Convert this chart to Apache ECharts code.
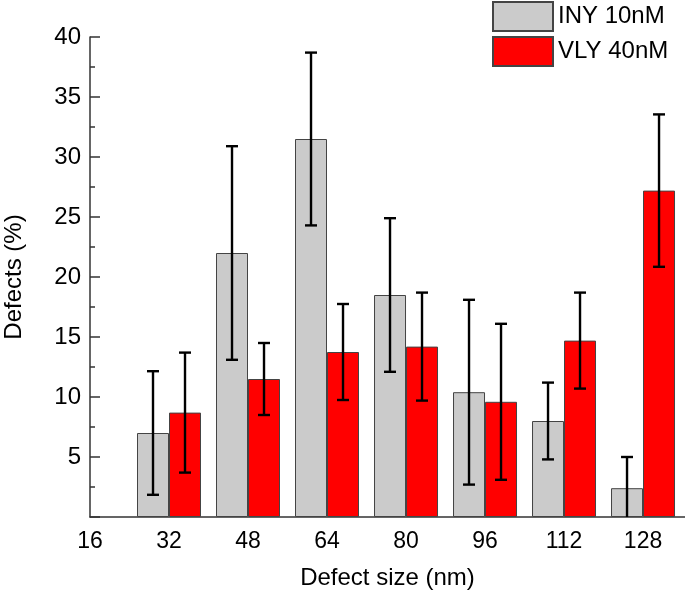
<!DOCTYPE html>
<html>
<head>
<meta charset="utf-8">
<script src="https://cdn.jsdelivr.net/npm/echarts@6/dist/echarts.min.js"></script>
<style>
  html, body { margin: 0; padding: 0; background: #fff; }
  #chart { width: 685px; height: 593px; }
</style>
</head>
<body>
<div id="chart"></div>
<script>
// defect size (nm) of each bar group
const sizes = [32, 48, 64, 80, 96, 112, 128];
// mean defect percentage and error (half bar length) per series
const inyValues = [7.0, 22.0, 31.5, 18.5, 10.4, 8.0, 2.4];
const inyErrors = [5.15, 8.9, 7.2, 6.4, 7.7, 3.2, 2.6];
const vlyValues = [8.7, 11.5, 13.75, 14.2, 9.6, 14.7, 27.2];
const vlyErrors = [5.0, 3.0, 4.0, 4.5, 6.5, 4.0, 6.35];
const seriesNames = ['INY 10nM', 'VLY 40nM'];

const FONT = 'Liberation Sans, Arial, sans-serif';
const BAR_W = 32;

const chart = echarts.init(document.getElementById('chart'), null, { renderer: 'canvas' });

// error bar drawn at bar centre; offset is half a bar to the left/right of the group
const errorBar = (values, errors, offset) => ({
  type: 'custom',
  clip: true,
  z: 10,
  silent: true,
  data: sizes.map((s, i) => [s, values[i] - errors[i], values[i] + errors[i]]),
  renderItem: (params, api) => {
    const lo = api.coord([api.value(0), api.value(1)]);
    const hi = api.coord([api.value(0), api.value(2)]);
    const x = lo[0] + offset;
    const cap = 6;
    const style = { stroke: '#000', lineWidth: 2.4 };
    return {
      type: 'group',
      children: [
        { type: 'line', shape: { x1: x, y1: lo[1], x2: x, y2: hi[1] }, style },
        { type: 'line', shape: { x1: x - cap, y1: hi[1], x2: x + cap, y2: hi[1] }, style },
        { type: 'line', shape: { x1: x - cap, y1: lo[1], x2: x + cap, y2: lo[1] }, style },
      ],
    };
  },
});

const option = {
  animation: false,
  textStyle: { fontFamily: FONT },
  grid: { left: 90, right: 0, top: 37, bottom: 76, containLabel: false, outerBoundsMode: 'none' },
  legend: {
    orient: 'vertical',
    left: 492,
    top: 1,
    padding: 0,
    itemWidth: 60,
    itemHeight: 29,
    itemGap: 4,
    icon: 'rect',
    data: seriesNames,
    textStyle: { fontFamily: FONT, fontSize: 24, color: '#000' },
  },
  xAxis: {
    type: 'value',
    min: 16,
    max: 136.5,
    interval: 16,
    name: 'Defect size (nm)',
    nameLocation: 'middle',
    nameGap: 49,
    nameTextStyle: { fontFamily: FONT, fontSize: 24, color: '#000' },
    axisLine: { show: true, onZero: false, lineStyle: { color: '#333', width: 1.5 } },
    axisTick: { show: false },
    splitLine: { show: false },
    axisLabel: { showMaxLabel: false, fontFamily: FONT, fontSize: 23, color: '#000', margin: 13 },
  },
  yAxis: {
    type: 'value',
    min: 0,
    max: 40,
    interval: 5,
    name: 'Defects (%)',
    nameLocation: 'middle',
    nameGap: 64,
    nameTextStyle: { fontFamily: FONT, fontSize: 24, color: '#000' },
    axisLine: { show: true, lineStyle: { color: '#333', width: 1.5 } },
    axisTick: { show: true, inside: true, length: 10, lineStyle: { color: '#333', width: 1.5 } },
    minorTick: { show: true, splitNumber: 2, length: 5, lineStyle: { color: '#333', width: 1.5 } },
    splitLine: { show: false },
    axisLabel: { showMinLabel: false, fontFamily: FONT, fontSize: 24, color: '#000', margin: 9 },
  },
  series: [
    {
      name: seriesNames[0],
      type: 'bar',
      barWidth: BAR_W,
      barGap: '0%',
      itemStyle: { color: '#cbcbcb', borderColor: '#444', borderWidth: 1 },
      data: sizes.map((s, i) => [s, inyValues[i]]),
    },
    {
      name: seriesNames[1],
      type: 'bar',
      barWidth: BAR_W,
      barGap: '0%',
      itemStyle: { color: '#ff0000', borderColor: '#444', borderWidth: 1 },
      data: sizes.map((s, i) => [s, vlyValues[i]]),
    },
    errorBar(inyValues, inyErrors, -BAR_W / 2),
    errorBar(vlyValues, vlyErrors, BAR_W / 2),
  ],
};

chart.setOption(option);
</script>
</body>
</html>
